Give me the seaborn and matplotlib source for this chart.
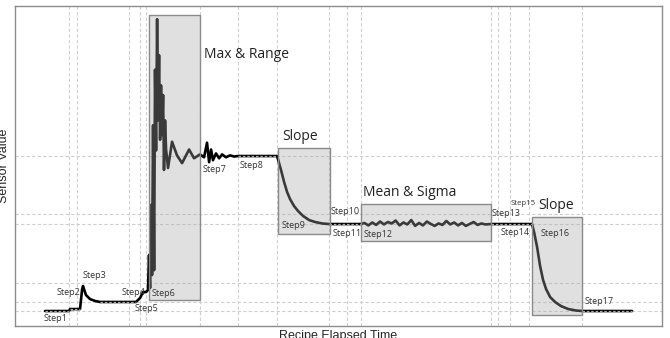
import numpy as np
import pandas as pd
import matplotlib
matplotlib.use('Agg')
import matplotlib.pyplot as plt
from matplotlib.patches import Rectangle
from matplotlib.colors import to_rgba
import seaborn as sns

# --- trace (time, sensor value) ---
TIME = [2.3, 20.8, 21.5, 29.2, 30.8, 31.5, 33.8, 36.9, 40.8, 44.6, 72.3, 75.4, 77.7, 80.0,
        81.5, 82.3, 83.1, 83.8, 84.6, 85.4, 86.2, 86.9, 87.7, 88.5, 89.2, 90.0, 90.8, 91.5,
        92.3, 93.1, 93.8, 94.6, 95.4, 96.9, 100.0, 103.8, 107.7, 113.1, 116.9, 121.5,
        124.6, 126.9, 128.5, 130.0, 131.5, 133.8, 136.2, 138.5, 141.5, 144.6, 147.7, 150.8,
        180.8, 183.8, 186.2, 188.5, 190.8, 193.8, 196.9, 200.8, 205.4, 210.0, 215.4, 220.8,
        245.4, 248, 251, 254, 257, 260, 263, 266, 269, 272, 275, 278, 281, 284, 287, 290,
        293, 296, 299, 302, 305, 308, 311, 314, 317, 320, 323, 326, 329, 332, 335, 338, 341,
        345.4, 376.9, 378.5, 380.8, 383.1, 385.4, 387.7, 390.8, 394.6, 399.2, 404.6, 410.8,
        415.4, 453.8]
VALUE = [0, 0, 2, 2, 22, 25.7, 16.4, 12.3, 10.3, 9.3, 9.3, 13.4, 19.5, 19.5,
         21.6, 57.6, 23.6, 109, 37, 191, 42, 248, 165, 300, 196, 263, 176, 232,
         181, 222, 145, 196, 166, 147, 174, 160, 152, 166, 157, 161,
         158, 173, 153, 166, 155, 162, 157, 161, 158, 160, 158.8, 159.3,
         159.3, 145, 132.6, 122.3, 115, 108, 102.8, 97.7, 93.5, 91.5, 90, 89.4,
         89.4, 90.5, 88, 91, 88.5, 92, 89, 91.5, 90, 93, 88, 91, 89, 93.5, 87.5, 90.5,
         88, 92, 89.5, 87.5, 90, 88.5, 92.5, 89, 91, 88, 90.5, 87.5, 89.5, 91.5, 88.5, 90, 89,
         89.4, 89.4, 81, 65.8, 46.3, 31.9, 22.6, 14.4, 9.3, 5.1, 2.1, 0.5,
         0, 0]

# step boundaries and labels
STEP_EDGES = [20.8, 26.9, 66.9, 75.4, 80, 121.5, 150.8, 180.8, 220.8, 234.6, 245.4,
              345.4, 350.8, 360, 374.6, 415.4]
STEP_NAMES = ['Step1', 'Step2', 'Step3', 'Step4', 'Step5', 'Step6', 'Step7', 'Step8', 'Step9',
              'Step10', 'Step11', 'Step12', 'Step13', 'Step14', 'Step15', 'Step16', 'Step17']
STEP_LABEL_T = [1.5, 11.0, 30.8, 61.5, 71.5, 84.6, 123.8, 152.3, 184.6, 222.3, 223.8, 247,
                346, 353, 360.5, 383.8, 417.7]
STEP_LABEL_V = [-7.2, 19.5, 36, 19.5, 3, 17.5, 145, 150, 87.4, 101.8, 80, 79,
                100.7, 81, 111, 80, 9.3]

# reference levels (dashed in flat steps) and horizontal guide levels
REF_START = [2.3, 21.5, 44.6, 150.8, 220.8, 345.4, 415.4]
REF_END = [20.8, 29.2, 72.3, 180.8, 245.4, 376.9, 453.8]
REF_LEVEL = [0, 2, 9.3, 159.3, 89.4, 89.4, 0]
GUIDE_LEVELS = [159.3, 99.7, 89.4, 28.8, 9.3, 0]

# feature windows
BOX_T0 = [82.3, 181.5, 245.4, 377]
BOX_T1 = [121.5, 221.5, 345.4, 415.4]
BOX_V0 = [11.3, 79.2, 72, -4.1]
BOX_V1 = [304, 167.6, 110, 96.6]
BOX_TEXT = ['Max & Range', 'Slope', 'Mean & Sigma', 'Slope']
BOX_TEXT_T = [124.6, 184.4, 247, 382]
BOX_TEXT_V = [264, 179, 121.6, 108]

sns.set_style('white')
plt.rcParams['font.family'] = ['Open Sans', 'DejaVu Sans']

fig = plt.figure(figsize=(6.7, 3.38), dpi=100)
ax = fig.add_axes([0.0224, 0.0355, 0.9657, 0.9467])

grid_kw = dict(color='#cfcfcf', lw=0.8, ls=(0, (3, 2)), zorder=0)
for t in STEP_EDGES:
    ax.axvline(t, **grid_kw)
for v in GUIDE_LEVELS:
    ax.axhline(v, **grid_kw)

df = pd.DataFrame({'time': TIME, 'value': VALUE})
sns.lineplot(data=df, x='time', y='value', color='black', lw=1.9, estimator=None,
             sort=False, ax=ax, zorder=2)
ax.hlines(REF_LEVEL, REF_START, REF_END, colors='#a8a8a8', lw=0.9,
          linestyles=(0, (2, 1.5)), zorder=3)

for t0, t1, v0, v1 in zip(BOX_T0, BOX_T1, BOX_V0, BOX_V1):
    ax.add_patch(Rectangle((t0, v0), t1 - t0, v1 - v0, facecolor=to_rgba('#a8a8a8', 0.35),
                           edgecolor='#8a8a8a', lw=1, zorder=4))

for txt, t, v in zip(BOX_TEXT, BOX_TEXT_T, BOX_TEXT_V):
    ax.text(t, v, txt, fontsize=10, color='#222222', ha='left', va='center', zorder=5)

for name, t, v in zip(STEP_NAMES, STEP_LABEL_T, STEP_LABEL_V):
    fs = 5.6 if name == 'Step15' else 6.5
    ax.text(t, v, name, fontsize=fs, color='#333333', ha='left', va='center', zorder=5)

ax.set_xlim(-20.8, 476.9)
ax.set_ylim(-15.4, 313.5)
ax.set_xticks([0, 100, 200, 300, 400])
ax.set_yticks([0, 100, 200, 300])
ax.set_xticklabels([])
ax.set_yticklabels([])
ax.tick_params(axis='both', length=3, width=0.8, color='#888888', direction='out')

for s in ax.spines.values():
    s.set_color('#8c8c8c')
    s.set_linewidth(1)
    s.set_visible(True)

ax.set_xlabel('Recipe Elapsed Time', fontsize=9, family=['Liberation Sans', 'DejaVu Sans'])
ax.set_ylabel('Sensor Value', fontsize=9, family=['Liberation Sans', 'DejaVu Sans'])
ax.xaxis.set_label_coords(0.5, -0.012)
ax.yaxis.set_label_coords(-0.007, 0.5)

fig.savefig('out.png', dpi=100)
